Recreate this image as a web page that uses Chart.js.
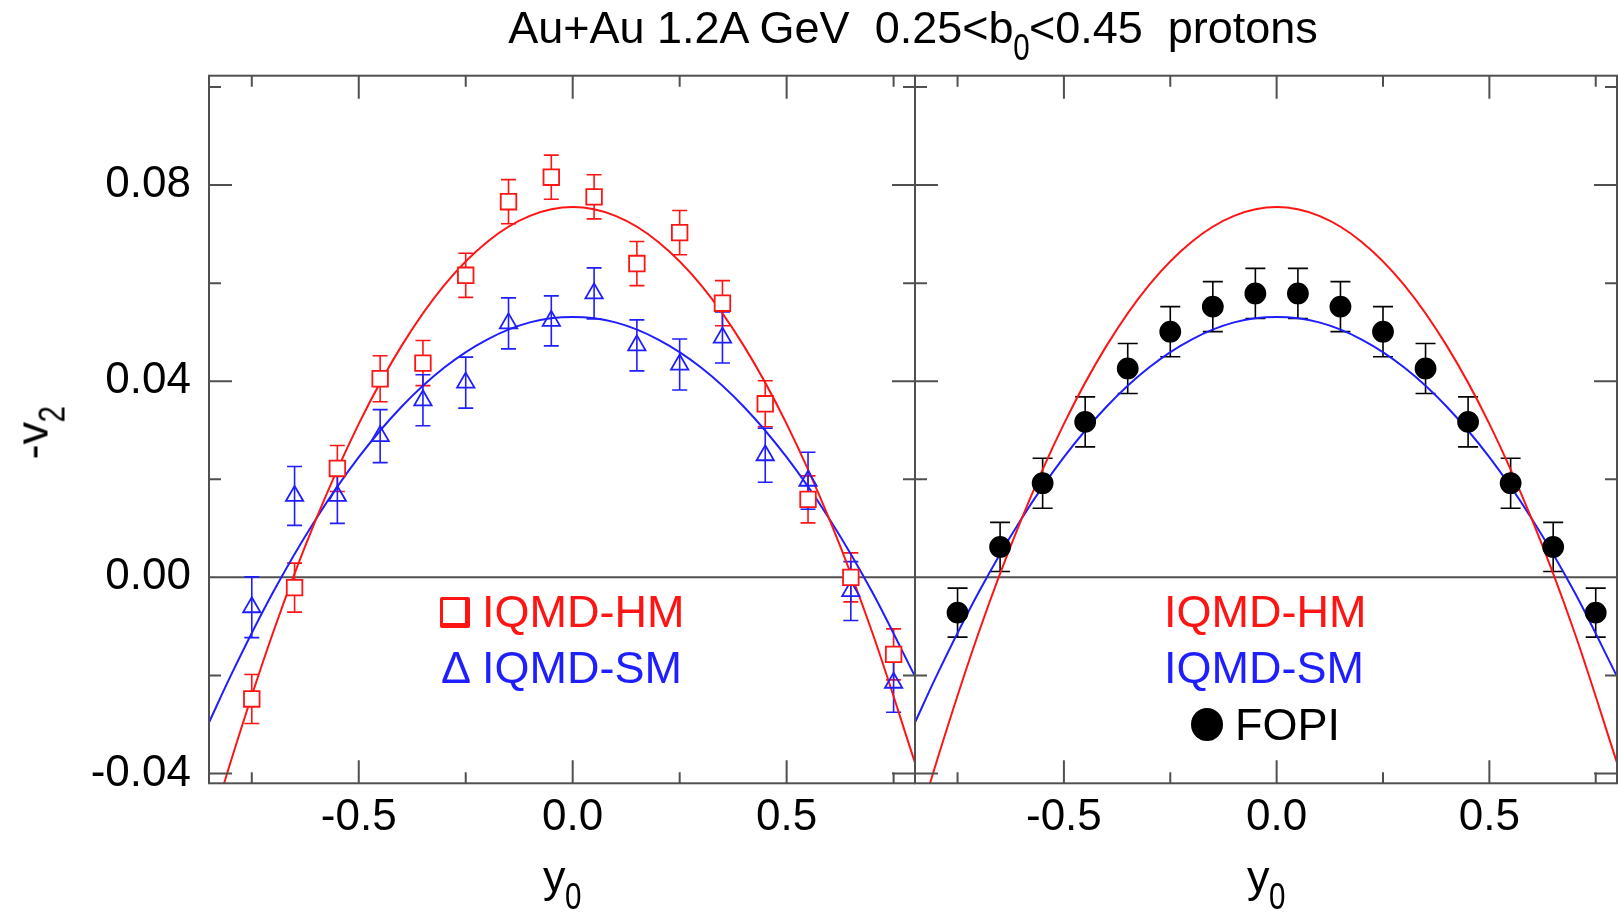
<!DOCTYPE html>
<html>
<head>
<meta charset="utf-8">
<script src="https://cdn.jsdelivr.net/npm/chart.js@4.4.0/dist/chart.umd.min.js"></script>
<style>
  body { margin: 0; background: #fff; width: 1619px; height: 915px; overflow: hidden; position: relative;
         font-family: "Liberation Sans", Arial, sans-serif; }
  canvas { position: absolute; top: 0; }
  #cLeft { left: 0; }
  #cRight { left: 900px; }
  .txt { position: absolute; white-space: nowrap; line-height: 1; font-size: 45px; color: #000; }
  .sub { display: inline-block; font-size: 0.82em; position: relative; top: 0.45em; transform: scaleX(0.8); margin: 0 -0.07em; }
  .red { color: rgb(255, 20, 20); }
  .blue { color: rgb(30, 30, 255); }
</style>
</head>
<body>
<canvas id="cLeft" width="915" height="915"></canvas>
<canvas id="cRight" width="719" height="915"></canvas>

<div class="txt" id="title" style="left:913px; top:5px; transform:translateX(-50%);">Au+Au 1.2A GeV&nbsp;&nbsp;0.25&lt;b<span class="sub">0</span>&lt;0.45&nbsp;&nbsp;protons</div>
<div class="txt" style="left:32px; top:433px; transform:translate(-50%,-50%) rotate(-90deg);">-v<span class="sub">2</span></div>
<div class="txt" style="left:562px; top:854px; transform:translateX(-50%);">y<span class="sub">0</span></div>
<div class="txt" style="left:1266px; top:854px; transform:translateX(-50%);">y<span class="sub">0</span></div>

<!-- left panel legend -->
<div style="position:absolute; left:440px; top:597px; width:22px; height:23px; border:3px solid rgb(255,20,20); border-right-width:5px; border-bottom-width:5px; border-radius:2px;"></div>
<div class="txt red" style="left:482px; top:589px;">IQMD-HM</div>
<div class="txt blue" style="left:441px; top:645px;">&Delta;</div>
<div class="txt blue" style="left:482px; top:645px;">IQMD-SM</div>

<!-- right panel legend -->
<div class="txt red" style="left:1164px; top:589px;">IQMD-HM</div>
<div class="txt blue" style="left:1164px; top:645px;">IQMD-SM</div>
<div style="position:absolute; left:1191px; top:708px; width:32px; height:33px; border-radius:50%; background:#000;"></div>
<div class="txt" style="left:1235px; top:702px;">FOPI</div>

<script>
// ---- data ----
const rapidity = [-0.75, -0.65, -0.55, -0.45, -0.35, -0.25, -0.15, -0.05, 0.05, 0.15, 0.25, 0.35, 0.45, 0.55, 0.65, 0.75];

// IQMD-HM (open squares)
const hmValues = [-0.0248, -0.0021, 0.0222, 0.0405, 0.0437, 0.0616, 0.0766, 0.0816, 0.0776, 0.0640, 0.0703, 0.0559, 0.0354, 0.0159, 0.0000, -0.0157];
const hmErrors = [0.0050, 0.0050, 0.0047, 0.0047, 0.0046, 0.0045, 0.0045, 0.0045, 0.0045, 0.0045, 0.0045, 0.0046, 0.0047, 0.0048, 0.0050, 0.0052];

// IQMD-SM (open triangles)
const smValues = [-0.0061, 0.0166, 0.0166, 0.0288, 0.0361, 0.0397, 0.0518, 0.0523, 0.0579, 0.0473, 0.0434, 0.0489, 0.0249, 0.0197, -0.0028, -0.0215];
const smErrors = [0.0062, 0.0060, 0.0056, 0.0054, 0.0052, 0.0052, 0.0052, 0.0051, 0.0052, 0.0052, 0.0052, 0.0052, 0.0055, 0.0058, 0.0060, 0.0060];

// FOPI data (filled circles)
const fopiValues = [-0.0072, 0.0062, 0.0192, 0.0317, 0.0426, 0.0501, 0.0552, 0.0579, 0.0579, 0.0552, 0.0501, 0.0426, 0.0317, 0.0192, 0.0062, -0.0072];
const fopiErrors = [0.0050, 0.0050, 0.0051, 0.0051, 0.0051, 0.0051, 0.0051, 0.0051, 0.0051, 0.0051, 0.0051, 0.0051, 0.0051, 0.0051, 0.0050, 0.0050];

// smooth model curves, read at these rapidities
const curveX = [-0.85, -0.8, -0.7, -0.6, -0.5, -0.4, -0.3, -0.2, -0.1, 0.0, 0.1, 0.2, 0.3, 0.4, 0.5, 0.6, 0.7, 0.8];
const hmCurve = [-0.0524, -0.0378, -0.0112, 0.0118, 0.0313, 0.0472, 0.0596, 0.0684, 0.0737, 0.0755, 0.0737, 0.0684, 0.0596, 0.0472, 0.0313, 0.0118, -0.0112, -0.0378];
const smCurve = [-0.0296, -0.0202, -0.0030, 0.0119, 0.0245, 0.0348, 0.0428, 0.0485, 0.0520, 0.0531, 0.0520, 0.0485, 0.0428, 0.0348, 0.0245, 0.0119, -0.0030, -0.0202];

// axes
const xTickValues = [-0.5, 0.0, 0.5];
const xTickLabels = ["-0.5", "0.0", "0.5"];
const yTickValues = [-0.04, 0.0, 0.04, 0.08];
const yTickLabels = ["-0.04", "0.00", "0.04", "0.08"];
const xMajor = [-0.5, 0.0, 0.5];
const xMinor = [-0.75, -0.25, 0.25, 0.75];
const yMajor = [-0.04, 0.04, 0.08];
const yMinor = [-0.02, 0.02, 0.06, 0.10];

const RED = "rgb(255, 20, 20)";
const BLUE = "rgb(30, 30, 255)";
const AXIS = "#505050";
const FONT = "'Liberation Sans', Arial, sans-serif";

const pts = (xs, ys) => xs.map((x, i) => ({ x, y: ys[i] }));

// -----------------------------
// plugins: zero line, error bars, frame + inward ticks
// -----------------------------
const framePlugin = {
    id: "frameTicks",
    beforeDatasetsDraw(chart) {
        const { ctx, chartArea: a, scales: { x, y } } = chart;
        ctx.save();
        // zero line
        const y0 = y.getPixelForValue(0);
        ctx.strokeStyle = AXIS;
        ctx.lineWidth = 2;
        ctx.beginPath();
        ctx.moveTo(a.left, y0);
        ctx.lineTo(a.right, y0);
        ctx.stroke();
        // error bars
        chart.data.datasets.forEach(ds => {
            if (!ds.yErr) return;
            ctx.strokeStyle = ds.borderColor;
            ctx.lineWidth = 1.6;
            const h = ds.capWidth / 2;
            ds.data.forEach((p, i) => {
                const px = x.getPixelForValue(p.x);
                const top = y.getPixelForValue(p.y + ds.yErr[i]);
                const bot = y.getPixelForValue(p.y - ds.yErr[i]);
                ctx.beginPath();
                ctx.moveTo(px, top); ctx.lineTo(px, bot);
                ctx.moveTo(px - h, top); ctx.lineTo(px + h, top);
                ctx.moveTo(px - h, bot); ctx.lineTo(px + h, bot);
                ctx.stroke();
            });
        });
        ctx.restore();
    },
    afterDatasetsDraw(chart) {
        const { ctx, chartArea: a, scales: { x, y } } = chart;
        ctx.save();
        ctx.strokeStyle = AXIS;
        ctx.lineWidth = 2;
        ctx.strokeRect(a.left, a.top, a.right - a.left, a.bottom - a.top);
        ctx.beginPath();
        const xt = (vals, len) => vals.forEach(v => {
            const px = x.getPixelForValue(v);
            ctx.moveTo(px, a.bottom); ctx.lineTo(px, a.bottom - len);
            ctx.moveTo(px, a.top); ctx.lineTo(px, a.top + len);
        });
        const yt = (vals, len) => vals.forEach(v => {
            const py = y.getPixelForValue(v);
            ctx.moveTo(a.left, py); ctx.lineTo(a.left + len, py);
            ctx.moveTo(a.right, py); ctx.lineTo(a.right - len, py);
        });
        xt(xMajor, 23); xt(xMinor, 11);
        yt(yMajor, 23); yt(yMinor, 12);
        ctx.stroke();
        ctx.restore();
    }
};

function curveSet(data, color) {
    return {
        data, borderColor: color, borderWidth: 2, pointRadius: 0,
        cubicInterpolationMode: "monotone", showLine: true, order: 2
    };
}

function markerSet(data, errs, style, radius, color, fill, cap) {
    return {
        data, yErr: errs, capWidth: cap, showLine: false, order: 0,
        pointStyle: style, pointRadius: radius, pointBorderWidth: 1.8,
        borderColor: color, pointBorderColor: color, pointBackgroundColor: fill,
        pointHoverRadius: radius
    };
}

function makeScales(showY) {
    return {
        x: {
            type: "linear", min: -0.85, max: 0.80,
            afterBuildTicks: s => { s.ticks = xTickValues.map(v => ({ value: v })); },
            afterFit: s => { s.height = 915 - 783.3; },
            grid: { display: false, drawTicks: false },
            border: { display: false },
            ticks: {
                autoSkip: false, maxRotation: 0, padding: 8, color: "#000",
                font: { size: 44, family: FONT },
                callback: (v, i) => xTickLabels[i]
            }
        },
        y: {
            type: "linear", min: -0.042, max: 0.1023, display: showY,
            afterBuildTicks: s => { s.ticks = yTickValues.map(v => ({ value: v })); },
            afterFit: s => { if (showY) s.width = 209; },
            grid: { display: false, drawTicks: false },
            border: { display: false },
            ticks: {
                autoSkip: false, padding: 18, color: "#000",
                font: { size: 44, family: FONT },
                callback: (v, i) => yTickLabels[i]
            }
        }
    };
}

const common = {
    responsive: false,
    animation: false,
    events: [],
    plugins: { legend: { display: false }, tooltip: { enabled: false } }
};

// -----------------------------
// Left panel: model points + curves
// -----------------------------
new Chart(document.getElementById("cLeft"), {
    type: "line",
    data: {
        datasets: [
            markerSet(pts(rapidity, hmValues), hmErrors, "rect", 11, RED, "#fff", 15),
            markerSet(pts(rapidity, smValues), smErrors, "triangle", 10, BLUE, "rgba(255,255,255,0)", 15),
            curveSet(pts(curveX, hmCurve), RED),
            curveSet(pts(curveX, smCurve), BLUE)
        ]
    },
    options: { ...common, layout: { autoPadding: false, padding: { top: 75.7, left: 0, right: 0, bottom: 0 } }, scales: makeScales(true) },
    plugins: [framePlugin]
});

// -----------------------------
// Right panel: FOPI data + curves
// -----------------------------
new Chart(document.getElementById("cRight"), {
    type: "line",
    data: {
        datasets: [
            markerSet(pts(rapidity, fopiValues), fopiErrors, "circle", 10, "#000", "#000", 20),
            curveSet(pts(curveX, hmCurve), RED),
            curveSet(pts(curveX, smCurve), BLUE)
        ]
    },
    options: { ...common, layout: { autoPadding: false, padding: { top: 75.7, left: 15, right: 2, bottom: 0 } }, scales: makeScales(false) },
    plugins: [framePlugin]
});
</script>
</body>
</html>
